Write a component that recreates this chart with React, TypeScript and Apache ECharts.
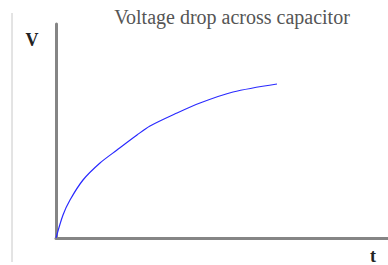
import React, { useEffect, useRef } from "react";
import * as echarts from "echarts";

const timeValues = [0, 7, 14, 27, 44, 61, 81, 94, 121, 144, 177, 221];
const voltageValues = [0, 23, 38, 58, 75, 88, 103, 112, 125, 135, 146, 154];
const titleText = "Voltage drop across capacitor";
const yLabel = "V";
const xLabel = "t";

export default function App() {
  const ref = useRef<HTMLDivElement>(null);
  useEffect(() => {
    if (!ref.current) return;
    const chart = echarts.init(ref.current, null, { renderer: "svg" });
    const data = timeValues.map((t, i) => [t, voltageValues[i]]);
    chart.setOption({
      animation: false,
      backgroundColor: "#fff",
      grid: { left: 56, right: 0, top: 24, bottom: 27 },
      xAxis: {
        type: "value",
        min: 0,
        max: 332,
        axisLine: { show: true, lineStyle: { color: "#858585", width: 3 } },
        axisTick: { show: false },
        axisLabel: { show: false },
        splitLine: { show: false },
      },
      yAxis: {
        type: "value",
        min: 0,
        max: 214,
        axisLine: { show: true, lineStyle: { color: "#858585", width: 3 } },
        axisTick: { show: false },
        axisLabel: { show: false },
        splitLine: { show: false },
      },
      series: [
        {
          type: "line",
          data,
          smooth: 0.3,
          showSymbol: false,
          lineStyle: { color: "#2a2aff", width: 1.2 },
        },
      ],
      graphic: [
        {
          type: "line",
          shape: { x1: 12, y1: 13, x2: 12, y2: 262 },
          style: { stroke: "#c8c8c8", lineWidth: 1 },
        },
        {
          type: "text",
          x: 232,
          y: 17,
          style: {
            text: titleText,
            font: "20px 'Liberation Serif', serif",
            fill: "#555",
            align: "center",
            verticalAlign: "middle",
          },
        },
        {
          type: "text",
          x: 32,
          y: 40,
          style: {
            text: yLabel,
            font: "bold 18px 'Liberation Serif', serif",
            fill: "#222",
            align: "center",
            verticalAlign: "middle",
          },
        },
        {
          type: "text",
          x: 373,
          y: 256,
          style: {
            text: xLabel,
            font: "bold 18px 'Liberation Serif', serif",
            fill: "#222",
            align: "center",
            verticalAlign: "middle",
          },
        },
      ],
    });
    return () => chart.dispose();
  }, []);
  return <div ref={ref} style={{ width: 388, height: 265, position: "absolute", left: 0, top: 0 }} />;
}
